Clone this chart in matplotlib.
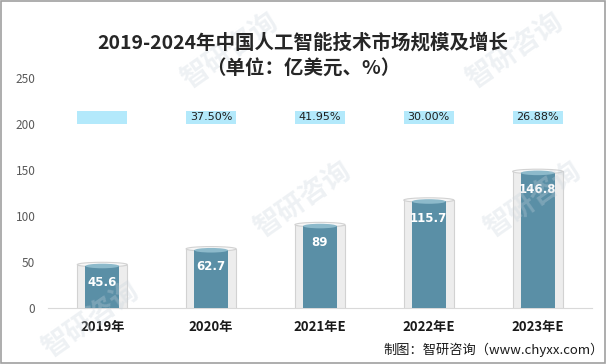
import matplotlib.pyplot as plt
from matplotlib.patches import Ellipse, Rectangle

plt.rcParams['font.family'] = ['Noto Sans CJK SC', 'DejaVu Sans']

years = ["2019年", "2020年", "2021年E", "2022年E", "2023年E"]
market = [45.6, 62.7, 89, 115.7, 146.8]
growth = ["", "37.50%", "41.95%", "30.00%", "26.88%"]

blue = "#5a8fa6"
blue_top = "#8dbacb"
shell = "#ededed"
shell_edge = "#d2d2d2"
box_blue = "#b3e9fb"

fig = plt.figure(figsize=(6.06, 3.64), dpi=100)
ax = fig.add_axes([0.079, 0.154, 0.898, 0.632])

x = list(range(len(years)))
outer_w = 0.46
inner_w = 0.31
ell_h = 5

# grey glass shell behind each bar
shell_h = [v + 1.5 for v in market]
ax.bar(x, shell_h, width=outer_w, color=shell, edgecolor=shell_edge, linewidth=0.8, zorder=1)
for xi, h in zip(x, shell_h):
    ax.add_patch(Ellipse((xi, h), outer_w, ell_h, facecolor="#f7f7f7", edgecolor=shell_edge, lw=0.8, zorder=2))

# blue cylinders
ax.bar(x, market, width=inner_w, color=blue, linewidth=0, zorder=3)
for xi, v in zip(x, market):
    ax.add_patch(Ellipse((xi, 0), inner_w, ell_h, facecolor=blue, edgecolor="none", zorder=3))
    ax.add_patch(Ellipse((xi, v), inner_w, ell_h, facecolor=blue_top, edgecolor="none", zorder=4))
    ax.annotate(f"{v:g}", (xi, v), xytext=(0, -12), textcoords="offset points",
                ha="center", va="center", color="white", fontsize=8.5, fontweight="bold",
                family=["DejaVu Sans"], zorder=5)

# growth rate boxes
for xi, g in zip(x, growth):
    ax.add_patch(Rectangle((xi - 0.23, 200), 0.46, 14.5, facecolor=box_blue, edgecolor="none", zorder=5))
    if g:
        ax.text(xi, 207, g, ha="center", va="center", fontsize=8, color="#1f1f1f",
                family=["DejaVu Sans"], zorder=6)

ax.set_xlim(-0.5, 4.5)
ax.set_ylim(0, 250)
ax.set_yticks([0, 50, 100, 150, 200, 250])
ax.set_xticks(x)
ax.set_xticklabels(years, fontweight="bold", fontsize=9.5, color="#1a1a1a")
ax.tick_params(axis="y", length=0, labelsize=8.5, labelcolor="#595959", pad=9)
ax.tick_params(axis="x", length=0, pad=9)
for s in ["top", "right", "left"]:
    ax.spines[s].set_visible(False)
ax.spines["bottom"].set_color("#d9d9d9")
ax.spines["bottom"].set_zorder(0)

fig.text(0.5, 0.882, "2019-2024年中国人工智能技术市场规模及增长", ha="center", va="center",
         fontsize=14, fontweight="bold", color="#262626")
fig.text(0.5, 0.81, "（单位：亿美元、%）", ha="center", va="center",
         fontsize=14, fontweight="bold", color="#262626")
fig.text(0.997, 0.04, "制图：智研咨询（www.chyxx.com）", ha="right", va="center",
         fontsize=9.5, color="#1a1a1a")

# faint watermarks
for wx, wy in [(0.38, 0.86), (0.85, 0.86), (0.5, 0.45), (0.15, 0.12), (0.88, 0.45)]:
    fig.text(wx, wy, "智研咨询", rotation=35, ha="center", va="center", fontsize=20,
             color="#c8d3dc", alpha=0.3, fontweight="bold", zorder=0)

fig.add_artist(Rectangle((0.001, 0.002), 0.997, 0.995, transform=fig.transFigure,
                         fill=False, edgecolor="#a0a0a0", linewidth=1.2))

fig.savefig("out.png", dpi=100)
